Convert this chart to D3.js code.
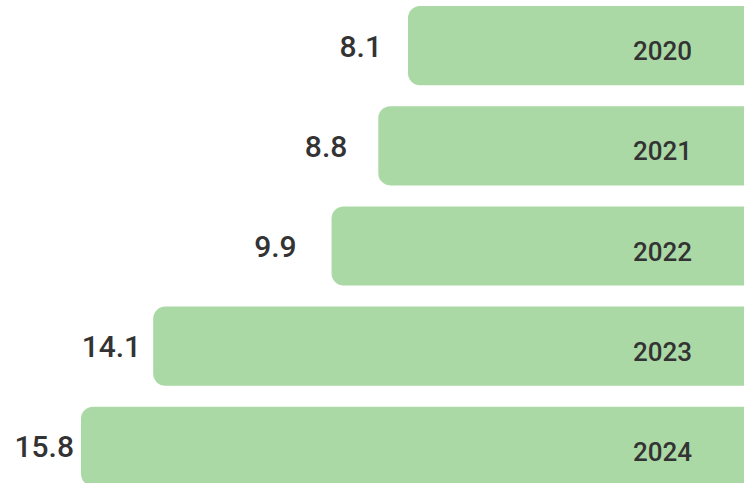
<!DOCTYPE html>
<html><head><meta charset="utf-8">
<script src="https://cdn.jsdelivr.net/npm/d3@7"></script>
<style>html,body{margin:0;padding:0;background:#fff;overflow:hidden}</style>
</head><body>
<script>
const years = ["2020","2021","2022","2023","2024"];
const values = [8.1, 8.8, 9.9, 14.1, 15.8];
// gap (px) between each value label and its bar, as in the reference
const labelGaps = [26, 31, 35, 12, 7];

const W = 744, H = 483;
const svg = d3.select("body").append("svg").attr("width", W).attr("height", H);

const right = 752;
const x = d3.scaleLinear().domain([0, 15.8]).range([right, 81]);
const y = d3.scaleBand().domain(years).range([-4, 496]).paddingInner(0.21).paddingOuter(0.1);

const data = years.map((yr, i) => ({year: yr, value: values[i], gap: labelGaps[i]}));
const g = svg.append("g");
const font = "Roboto, 'Liberation Sans', Arial, sans-serif";

g.selectAll("rect").data(data).join("rect")
  .attr("x", d => x(d.value))
  .attr("y", d => y(d.year))
  .attr("width", d => right + 20 - x(d.value))
  .attr("height", y.bandwidth())
  .attr("rx", 12).attr("ry", 12)
  .attr("fill", "#aad9a5");

g.selectAll("text.val").data(data).join("text")
  .attr("class", "val")
  .attr("x", d => x(d.value) - d.gap)
  .attr("y", d => y(d.year) + y.bandwidth() / 2 + 11)
  .attr("text-anchor", "end")
  .attr("font-family", font)
  .attr("font-weight", 500)
  .attr("font-size", 30)
  .attr("fill", "#333333")
  .text(d => d.value.toFixed(1));

g.selectAll("text.yr").data(data).join("text")
  .attr("class", "yr")
  .attr("x", 662.5)
  .attr("y", d => y(d.year) + y.bandwidth() / 2 + 14.5)
  .attr("text-anchor", "middle")
  .attr("font-family", font)
  .attr("font-weight", 500)
  .attr("font-size", 26)
  .attr("fill", "#333333")
  .text(d => d.year);
</script>
</body></html>
